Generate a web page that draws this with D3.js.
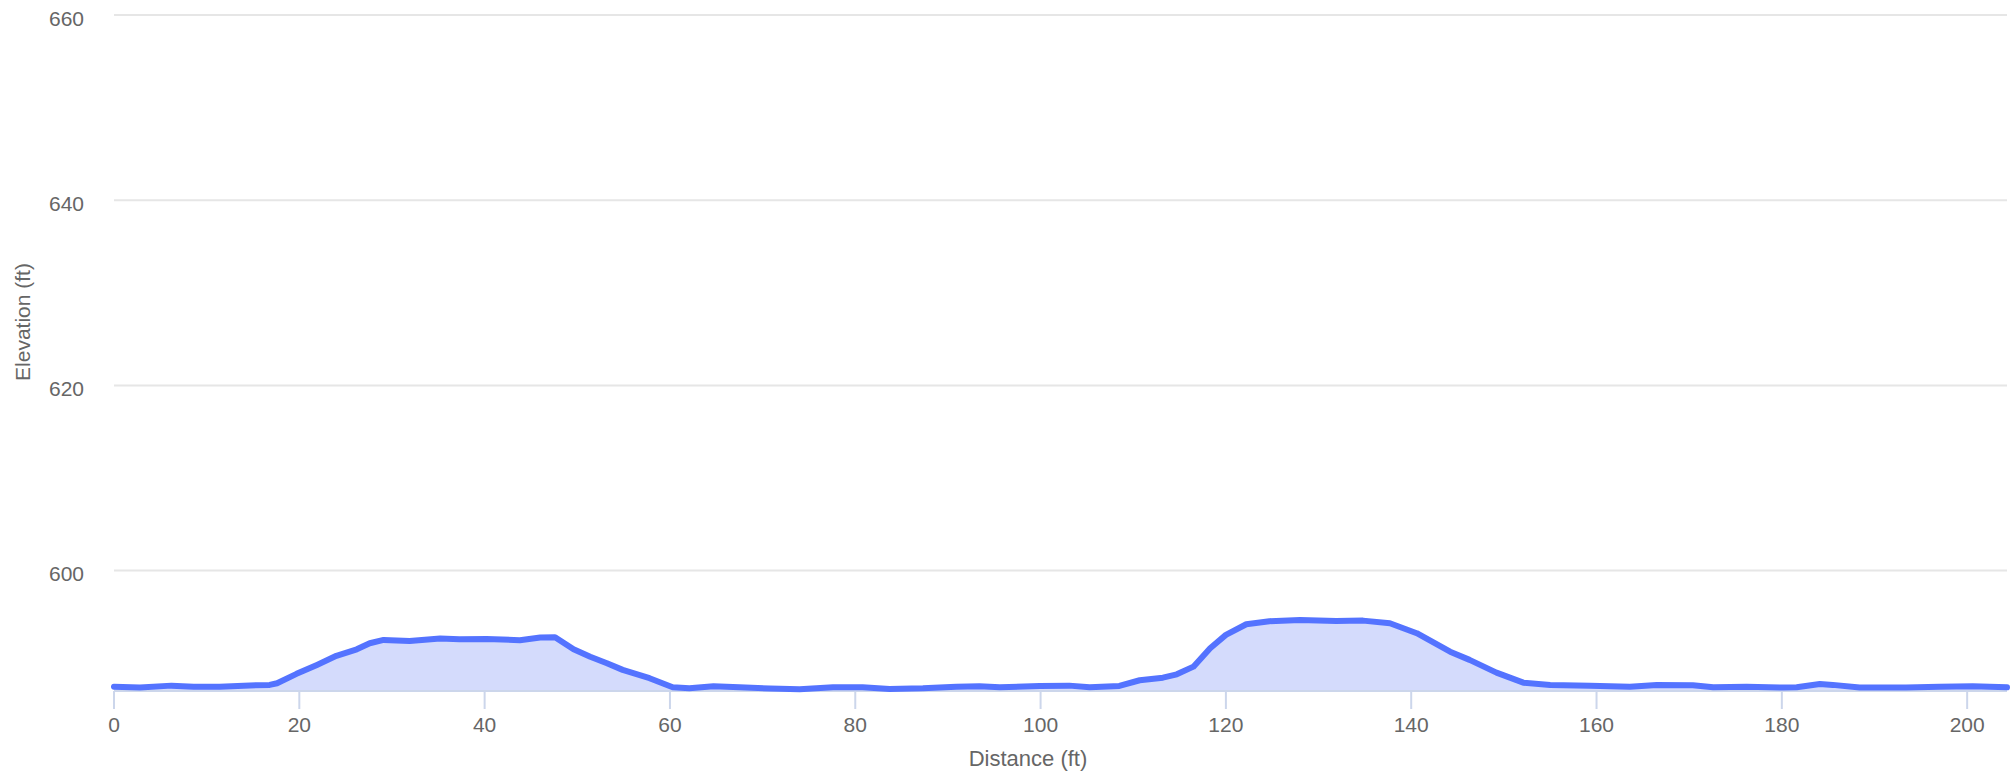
<!DOCTYPE html>
<html>
<head>
<meta charset="utf-8">
<script src="https://cdn.jsdelivr.net/npm/d3@7"></script>
<style>
  html, body { margin: 0; padding: 0; background: #ffffff; }
  svg { display: block; font-family: "Liberation Sans", Arial, sans-serif; }
</style>
</head>
<body>
<svg id="chart" width="2015" height="775"></svg>
<script>
const distances = [0, 2.8, 6.2, 8.6, 11.4, 14.0, 16.8, 17.6, 19.7, 21.9, 24.0, 26.2, 27.6, 29.1, 31.9, 35.2, 37.3, 40.2, 43.8, 46.0, 47.6, 49.6, 51.4, 53.2, 54.9, 57.8, 60.3, 62.1, 64.7, 67.5, 70.8, 74.0, 77.6, 80.8, 83.7, 87.3, 90.9, 93.4, 95.6, 99.9, 103.1, 105.3, 108.5, 110.7, 113.2, 114.7, 116.5, 118.3, 120.0, 122.2, 124.7, 128.0, 131.9, 134.8, 137.7, 140.6, 144.2, 146.3, 149.2, 152.1, 155.0, 159.3, 163.6, 166.5, 170.4, 172.6, 176.2, 180.1, 181.6, 184.1, 185.5, 188.4, 193.4, 197.0, 200.6, 204.3];
const elevations = [587.47, 587.37, 587.58, 587.47, 587.47, 587.58, 587.66, 587.84, 588.85, 589.82, 590.8, 591.5, 592.16, 592.52, 592.41, 592.66, 592.59, 592.62, 592.48, 592.77, 592.8, 591.5, 590.7, 590.0, 589.28, 588.38, 587.4, 587.3, 587.52, 587.4, 587.26, 587.19, 587.4, 587.4, 587.22, 587.3, 587.47, 587.52, 587.4, 587.55, 587.58, 587.4, 587.55, 588.16, 588.44, 588.8, 589.63, 591.62, 593.06, 594.21, 594.54, 594.68, 594.57, 594.6, 594.32, 593.24, 591.25, 590.36, 588.98, 587.9, 587.66, 587.58, 587.47, 587.66, 587.62, 587.4, 587.47, 587.37, 587.4, 587.76, 587.66, 587.37, 587.37, 587.47, 587.52, 587.4];
const xTicks = [0, 20, 40, 60, 80, 100, 120, 140, 160, 180, 200];
const yTicks = [600, 620, 640, 660];
const xTitle = "Distance (ft)";
const yTitle = "Elevation (ft)";

const data = distances.map((d, i) => ({ d: d, e: elevations[i] }));

const plotLeft = 114, plotRight = 2007, plotTop = 15, plotBottom = 691;
const x = d3.scaleLinear().domain([0, 204.3]).range([plotLeft, plotRight]);
const y = d3.scaleLinear().domain([587.0, 660]).range([plotBottom, plotTop]);

const svg = d3.select("#chart");

// gridlines
svg.append("g").selectAll("line").data(yTicks).join("line")
  .attr("x1", plotLeft).attr("x2", plotRight)
  .attr("y1", d => y(d)).attr("y2", d => y(d))
  .attr("stroke", "#e6e6e6").attr("stroke-width", 2);

// y labels
svg.append("g").selectAll("text").data(yTicks).join("text")
  .attr("x", 84).attr("y", d => y(d) + 10.5)
  .attr("text-anchor", "end")
  .attr("fill", "#666666").attr("font-size", "21px")
  .text(d => d);

// area
const area = d3.area().x(d => x(d.d)).y0(y(587.0)).y1(d => y(d.e));
svg.append("path").datum(data)
  .attr("d", area)
  .attr("fill", "#d4dbfc");

// x axis line
svg.append("line")
  .attr("x1", plotLeft).attr("x2", plotRight)
  .attr("y1", plotBottom).attr("y2", plotBottom)
  .attr("stroke", "#ccd6eb").attr("stroke-width", 2);

// line
const line = d3.line().x(d => x(d.d)).y(d => y(d.e));
svg.append("path").datum(data)
  .attr("d", line)
  .attr("fill", "none")
  .attr("stroke", "#5473ff")
  .attr("stroke-width", 6)
  .attr("stroke-linejoin", "round")
  .attr("stroke-linecap", "round");

// x ticks
svg.append("g").selectAll("line").data(xTicks).join("line")
  .attr("x1", d => x(d)).attr("x2", d => x(d))
  .attr("y1", plotBottom).attr("y2", plotBottom + 18)
  .attr("stroke", "#ccd6eb").attr("stroke-width", 2);

svg.append("g").selectAll("text").data(xTicks).join("text")
  .attr("x", d => x(d)).attr("y", 731.5)
  .attr("text-anchor", "middle")
  .attr("fill", "#666666").attr("font-size", "21px")
  .text(d => d);

// axis titles
svg.append("text")
  .attr("x", 1028).attr("y", 766)
  .attr("text-anchor", "middle")
  .attr("fill", "#666666").attr("font-size", "22px")
  .text(xTitle);

svg.append("text")
  .attr("transform", "translate(30,322) rotate(-90)")
  .attr("text-anchor", "middle")
  .attr("fill", "#666666").attr("font-size", "21px")
  .text(yTitle);
</script>
</body>
</html>
